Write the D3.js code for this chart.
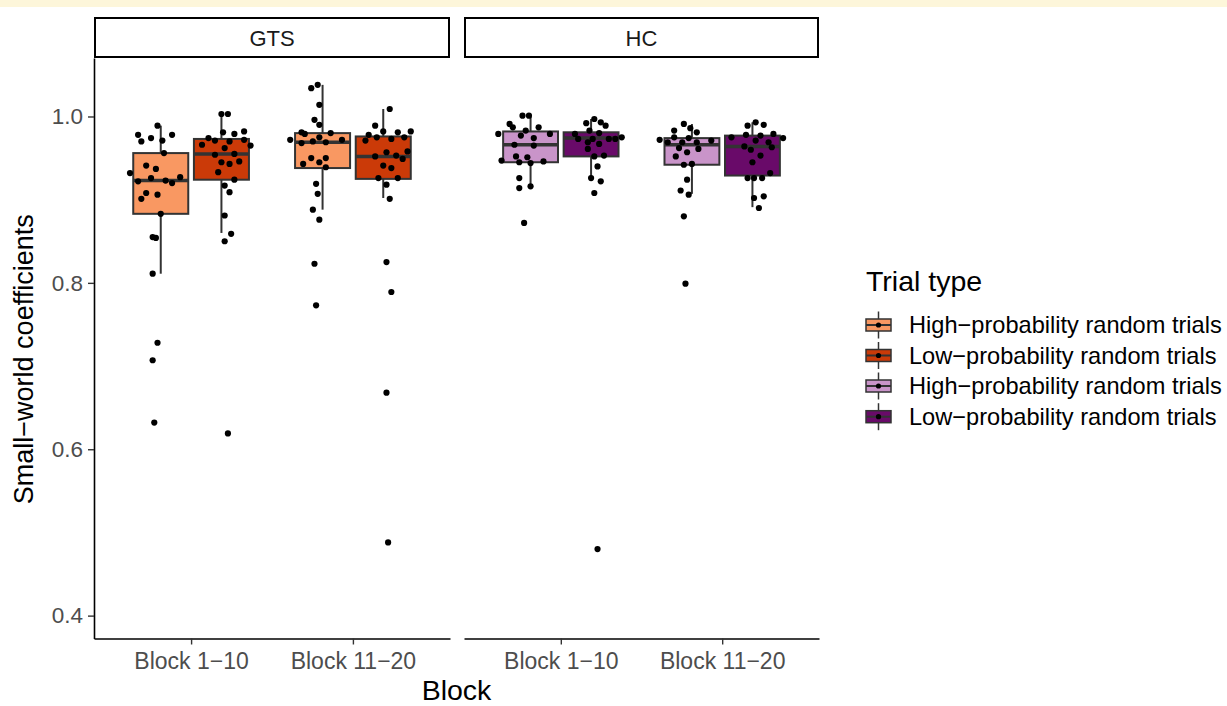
<!DOCTYPE html>
<html><head><meta charset="utf-8">
<script src="https://cdn.jsdelivr.net/npm/d3@7"></script>
<style>
body{margin:0;background:#fff;}
svg{display:block;font-family:"Liberation Sans",Arial,sans-serif;}
</style>
</head><body>
<svg id="chart" width="1227" height="706"></svg>
<script>
// ---------------- data ----------------
const groups = ["GTS", "HC"];
const blocks = ["Block 1\u221210", "Block 11\u221220"];
const trialTypes = ["High\u2212probability random trials", "Low\u2212probability random trials"];
const yTicks = [0.4, 0.6, 0.8, 1.0];
const legendTitle = "Trial type";
const legendLabels = [
  "High\u2212probability random trials",
  "Low\u2212probability random trials",
  "High\u2212probability random trials",
  "Low\u2212probability random trials"
];
const xTitle = "Block";
const yTitle = "Small\u2212world coefficients";

// one entry per box
const boxGroup = ["GTS", "GTS", "GTS", "GTS", "HC", "HC", "HC", "HC"];
const boxBlock = [blocks[0], blocks[0], blocks[1], blocks[1], blocks[0], blocks[0], blocks[1], blocks[1]];
const boxTrial = [0, 1, 0, 1, 0, 1, 0, 1];
const q1          = [0.883, 0.924, 0.938, 0.925, 0.945, 0.952, 0.942, 0.929];
const median      = [0.923, 0.955, 0.969, 0.952, 0.966, 0.974, 0.966, 0.964];
const q3          = [0.956, 0.973, 0.980, 0.976, 0.982, 0.981, 0.974, 0.977];
const whiskerLow  = [0.811, 0.860, 0.888, 0.902, 0.916, 0.924, 0.907, 0.891];
const whiskerHigh = [0.989, 1.003, 1.038, 1.009, 1.000, 0.997, 0.991, 0.993];

// participant values per box (jitter = horizontal offset in category units)
const pointValues = [
  [0.989,0.978,0.970,0.974,0.971,0.978,0.956,0.932,0.941,0.937,0.922,0.926,0.923,0.920,0.927,0.908,0.901,0.906,0.883,0.855,0.854,0.811,0.728,0.707,0.632],
  [1.003,1.003,0.981,0.979,0.982,0.974,0.971,0.970,0.972,0.966,0.962,0.965,0.954,0.955,0.945,0.943,0.946,0.933,0.924,0.917,0.909,0.881,0.859,0.850,0.619],
  [1.034,1.038,1.014,0.996,0.990,0.981,0.979,0.980,0.975,0.972,0.968,0.970,0.969,0.972,0.950,0.945,0.950,0.943,0.939,0.919,0.907,0.888,0.876,0.823,0.773],
  [1.009,0.989,0.978,0.982,0.981,0.982,0.971,0.975,0.973,0.975,0.957,0.958,0.952,0.953,0.949,0.941,0.938,0.926,0.926,0.918,0.901,0.825,0.789,0.668,0.488],
  [1.001,1.001,0.991,0.987,0.987,0.983,0.979,0.977,0.979,0.974,0.966,0.965,0.952,0.951,0.947,0.945,0.944,0.946,0.926,0.914,0.916,0.872],
  [0.997,0.992,0.993,0.989,0.983,0.979,0.980,0.973,0.973,0.973,0.973,0.975,0.969,0.967,0.961,0.952,0.953,0.940,0.926,0.922,0.908,0.480],
  [0.991,0.986,0.983,0.981,0.972,0.969,0.975,0.969,0.974,0.969,0.971,0.962,0.961,0.957,0.952,0.942,0.943,0.924,0.911,0.906,0.880,0.799],
  [0.993,0.989,0.990,0.978,0.977,0.979,0.975,0.974,0.971,0.969,0.964,0.963,0.960,0.953,0.945,0.932,0.926,0.926,0.926,0.904,0.902,0.890]
];
const pointJitter = [
  [-0.02,-0.14,-0.12,-0.06,0.01,0.07,0.02,-0.19,-0.09,-0.03,-0.14,-0.06,0.03,0.07,0.12,-0.09,-0.12,-0.02,0.00,-0.05,-0.03,-0.05,-0.02,-0.05,-0.04],
  [0.00,0.04,0.01,0.08,0.14,-0.08,-0.04,0.05,0.14,-0.12,0.02,0.18,-0.04,0.08,0.00,0.05,0.11,-0.02,0.08,0.02,0.05,0.02,0.06,0.02,0.04],
  [-0.07,-0.03,-0.02,-0.05,-0.02,-0.13,-0.11,0.05,-0.02,-0.20,-0.13,-0.06,0.02,0.12,-0.07,-0.02,0.02,-0.12,0.02,-0.04,-0.03,-0.06,-0.02,-0.05,-0.04],
  [0.04,-0.05,-0.09,0.00,0.09,0.17,-0.11,-0.04,0.05,0.13,0.02,0.15,-0.05,0.08,0.12,0.00,0.05,-0.03,0.09,0.02,0.04,0.02,0.05,0.02,0.03],
  [-0.05,-0.01,-0.13,-0.11,0.05,-0.03,-0.20,-0.06,0.12,0.02,-0.10,0.02,-0.09,-0.02,-0.18,-0.07,0.00,0.08,-0.07,-0.07,0.00,-0.04],
  [0.02,-0.03,0.06,0.09,-0.01,-0.10,0.05,-0.08,0.01,0.11,0.15,0.19,-0.02,0.05,-0.02,0.02,0.08,0.04,0.00,0.06,0.02,0.04],
  [-0.05,-0.01,-0.11,0.03,-0.20,-0.15,-0.11,-0.06,-0.02,0.03,0.12,-0.08,0.04,-0.03,-0.10,-0.05,0.00,-0.03,-0.07,-0.02,-0.05,-0.04],
  [0.02,-0.03,0.07,-0.04,0.05,0.13,-0.13,0.19,0.02,0.10,-0.05,0.12,-0.01,0.05,0.00,0.11,-0.03,0.01,0.06,0.07,0.01,0.04]
];

// ---------------- styles / layout ----------------
const fills = { GTS: ["#F99862", "#CB3A08"], HC: ["#C994C9", "#690A69"] };
const legendFills = ["#F99862", "#CB3A08", "#C994C9", "#690A69"];
const W = 1227, H = 706;
const panelTop = 58, panelBottom = 638.5;
const panelRanges = { GTS: [94, 450], HC: [464, 819] };
const stripTop = 18, stripBottom = 57;
const dodge = 0.1875, boxW = 0.34;
const fontFam = '"Liberation Sans", Arial, sans-serif';

const svg = d3.select("#chart");
svg.append("rect").attr("x", 0).attr("y", 0).attr("width", W).attr("height", H).attr("fill", "#fff");
svg.append("rect").attr("x", 0).attr("y", 0).attr("width", W).attr("height", 7).attr("fill", "#fdf6da");

const y = d3.scaleLinear().domain([0.3725, 1.0703]).range([panelBottom, panelTop]);

const xScales = {};
groups.forEach(g => {
  xScales[g] = d3.scalePoint().domain(blocks).range(panelRanges[g]).padding(0.6);
});

// y axis (left panel only)
const yAxisG = svg.append("g").attr("transform", `translate(${panelRanges.GTS[0]},0)`)
  .call(d3.axisLeft(y).tickValues(yTicks).tickFormat(d3.format(".1f")).tickSize(6).tickSizeOuter(0).tickPadding(5));
yAxisG.select(".domain").attr("stroke", "#000").attr("stroke-width", 1.6);
yAxisG.selectAll(".tick line").attr("stroke", "#333").attr("stroke-width", 1.4);
yAxisG.selectAll(".tick text").attr("fill", "#4d4d4d").style("font-size", "22.5px").style("font-family", fontFam);

groups.forEach(g => {
  const x = xScales[g];
  const step = x.step();
  const [x0, x1] = panelRanges[g];

  // strip
  svg.append("rect").attr("x", x0 + 1).attr("y", stripTop).attr("width", x1 - x0 - 2).attr("height", stripBottom - stripTop)
    .attr("fill", "#fff").attr("stroke", "#000").attr("stroke-width", 2);
  svg.append("text").attr("x", (x0 + x1) / 2).attr("y", (stripTop + stripBottom) / 2 + 8)
    .attr("text-anchor", "middle").attr("fill", "#1a1a1a").style("font-size", "22px").text(g);

  // x axis
  const xa = svg.append("g").attr("transform", `translate(0,${panelBottom})`)
    .call(d3.axisBottom(x).tickSize(6).tickSizeOuter(0).tickPadding(8));
  xa.select(".domain").attr("stroke", "#000").attr("stroke-width", 1.6);
  xa.selectAll(".tick line").attr("stroke", "#333").attr("stroke-width", 1.4);
  xa.selectAll(".tick text").attr("fill", "#4d4d4d").style("font-size", "23px").style("font-family", fontFam);

  const plot = svg.append("g");
  const idx = d3.range(boxGroup.length).filter(i => boxGroup[i] === g);
  idx.forEach(i => {
    const cx = x(boxBlock[i]) + (boxTrial[i] === 0 ? -dodge : dodge) * step;
    const hw = boxW * step / 2;
    // whiskers
    plot.append("line").attr("x1", cx).attr("x2", cx).attr("y1", y(q3[i])).attr("y2", y(whiskerHigh[i]))
      .attr("stroke", "#333").attr("stroke-width", 2);
    plot.append("line").attr("x1", cx).attr("x2", cx).attr("y1", y(q1[i])).attr("y2", y(whiskerLow[i]))
      .attr("stroke", "#333").attr("stroke-width", 2);
    // box
    plot.append("rect").attr("x", cx - hw).attr("y", y(q3[i])).attr("width", 2 * hw).attr("height", y(q1[i]) - y(q3[i]))
      .attr("fill", fills[g][boxTrial[i]]).attr("stroke", "#333").attr("stroke-width", 2);
    plot.append("line").attr("x1", cx - hw).attr("x2", cx + hw).attr("y1", y(median[i])).attr("y2", y(median[i]))
      .attr("stroke", "#333").attr("stroke-width", 3.5);
  });
  idx.forEach(i => {
    const cx = x(boxBlock[i]) + (boxTrial[i] === 0 ? -dodge : dodge) * step;
    plot.selectAll(null).data(pointValues[i].map((v, k) => ({ v, j: pointJitter[i][k] })))
      .enter().append("circle")
      .attr("cx", d => cx + d.j * step).attr("cy", d => y(d.v)).attr("r", 3.1).attr("fill", "#000");
  });
});

// axis titles
svg.append("text").attr("x", (panelRanges.GTS[0] + panelRanges.HC[1]) / 2).attr("y", 700)
  .attr("text-anchor", "middle").attr("fill", "#000").style("font-size", "28.5px").text(xTitle);
svg.append("text").attr("transform", `translate(33,${(panelTop + panelBottom) / 2 + 11}) rotate(-90)`)
  .attr("text-anchor", "middle").attr("fill", "#000").style("font-size", "27px").text(yTitle);

// legend
const lg = svg.append("g");
lg.append("text").attr("x", 866).attr("y", 291).attr("fill", "#000").style("font-size", "28.5px").text(legendTitle);
const rowY = [325, 355.5, 386, 416.7];
legendLabels.forEach((lab, i) => {
  const cy = rowY[i], kx = 866, kw = 25;
  lg.append("line").attr("x1", kx + kw / 2).attr("x2", kx + kw / 2).attr("y1", cy - 13.5).attr("y2", cy + 13.5)
    .attr("stroke", "#333").attr("stroke-width", 1.5);
  lg.append("rect").attr("x", kx).attr("y", cy - 6).attr("width", kw).attr("height", 12)
    .attr("fill", legendFills[i]).attr("stroke", "#333").attr("stroke-width", 1.5);
  lg.append("line").attr("x1", kx).attr("x2", kx + kw).attr("y1", cy).attr("y2", cy)
    .attr("stroke", "#333").attr("stroke-width", 2);
  lg.append("circle").attr("cx", kx + kw / 2).attr("cy", cy).attr("r", 2.6).attr("fill", "#000");
  lg.append("text").attr("x", 909).attr("y", cy + 8).attr("fill", "#000").style("font-size", "23.6px").text(lab);
});
</script>
</body></html>
